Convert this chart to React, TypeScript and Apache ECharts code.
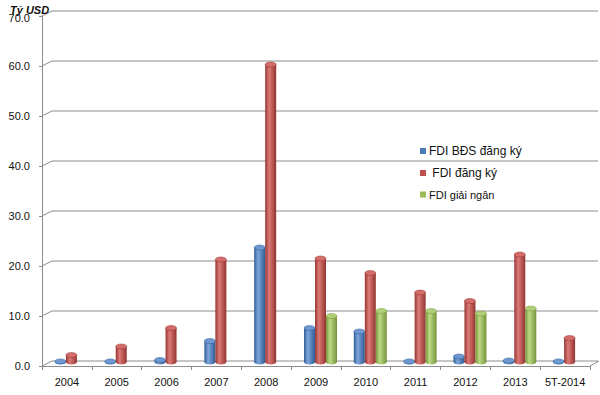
import React, { useEffect, useRef } from "react";
import * as echarts from "echarts";

const categories = ["2004", "2005", "2006", "2007", "2008", "2009", "2010", "2011", "2012", "2013", "5T-2014"];
const fdiBdsRegistered = [0.4, 0.5, 1.2, 5.0, 23.7, 7.6, 6.9, 0.8, 1.9, 1.1, 0.4];
const fdiRegistered = [2.2, 3.9, 7.6, 21.3, 60.3, 21.5, 18.6, 14.7, 13.0, 22.3, 5.6];
const fdiDisbursed: (number | null)[] = [null, null, null, null, null, 10.0, 11.0, 11.0, 10.5, 11.5, null];
const yTicks = [0, 10, 20, 30, 40, 50, 60, 70];
const seriesNames = ["FDI BĐS đăng ký", "FDI đăng ký", "FDI giải ngân"];

const palettes = [
  { base: "#4a7ebb", dark: "#2f5d95", light: "#7ea6dc", top: "#6f98d2" },
  { base: "#c0504d", dark: "#943431", light: "#dc7a77", top: "#d46d6a" },
  { base: "#9bbb59", dark: "#76953a", light: "#bcd985", top: "#b0cf78" },
];

const FONT = "'Liberation Sans', Arial, sans-serif";

export default function App() {
  const ref = useRef<HTMLDivElement>(null);
  useEffect(() => {
    if (!ref.current) return;
    document.body.style.margin = "0";
    const chart = echarts.init(ref.current, undefined, { renderer: "svg" });
    const seriesData = [fdiBdsRegistered, fdiRegistered, fdiDisbursed];

    const barSeries = seriesData.map((data, s) => {
      const p = palettes[s];
      return {
        type: "custom",
        name: seriesNames[s],
        itemStyle: { color: p.base },
        data: data.map((v, i) => [i, v == null ? null : v]),
        encode: { x: 0, y: 1 },
        z: 3,
        renderItem: (params: any, api: any) => {
          const v = api.value(1);
          if (v == null || isNaN(v)) return { type: "group", children: [] };
          const idx = api.value(0);
          const base = api.coord([idx, 0]);
          const topPt = api.coord([idx, v]);
          const w = 11;
          const cx = base[0] + 4.5 + (s - 1) * w;
          const yb = base[1] - 4;
          const yt = Math.min(topPt[1], yb - 0.6);
          const ry = 2.5;
          const grad = new echarts.graphic.LinearGradient(0, 0, 1, 0, [
            { offset: 0, color: p.dark },
            { offset: 0.35, color: p.light },
            { offset: 1, color: p.dark },
          ]);
          return {
            type: "group",
            children: [
              { type: "ellipse", shape: { cx, cy: yb, rx: w / 2, ry }, style: { fill: grad } },
              { type: "rect", shape: { x: cx - w / 2, y: yt, width: w, height: yb - yt }, style: { fill: grad } },
              { type: "ellipse", shape: { cx, cy: yt, rx: w / 2, ry }, style: { fill: p.top, stroke: p.dark, lineWidth: 0.5 } },
            ],
          };
        },
      };
    });

    const gridSeries = {
      type: "custom",
      name: "grid",
      silent: true,
      z: 1,
      data: yTicks.map((t) => [0, t]),
      encode: { x: 0, y: 1 },
      renderItem: (params: any, api: any) => {
        const t = api.value(1);
        const cs = params.coordSys;
        const y = api.coord([0, t])[1];
        const x0 = cs.x;
        const x1 = cs.x + cs.width;
        const children: any[] = [
          {
            type: "polyline",
            shape: { points: [[x0, y], [x0 + 10, y - 5], [x1 + 8, y - 5]] },
            style: { stroke: "#8c8c8c", lineWidth: 1, fill: "none" },
          },
        ];
        if (t === 0) {
          children.push({
            type: "line",
            shape: { x1: x1, y1: y, x2: x1 + 9, y2: y - 5 },
            style: { stroke: "#8c8c8c", lineWidth: 1 },
          });
        }
        return { type: "group", children };
      },
    };

    chart.setOption({
      animation: false,
      backgroundColor: "#ffffff",
      title: {
        text: "Tỷ USD",
        left: 5,
        top: -1,
        textStyle: { fontFamily: FONT, fontSize: 11, fontWeight: "bold", fontStyle: "italic", color: "#111" },
      },
      legend: {
        orient: "vertical",
        left: 415,
        top: 140,
        itemWidth: 6,
        itemHeight: 6,
        itemGap: 10,
        icon: "rect",
        data: [
          { name: seriesNames[0], textStyle: { fontSize: 12 } },
          { name: seriesNames[1], textStyle: { fontSize: 12 } },
          { name: seriesNames[2], textStyle: { fontSize: 11 } },
        ],
        formatter: (n: string) => (n === seriesNames[1] ? " " + n : n),
        textStyle: { fontFamily: FONT, color: "#111", padding: [0, 0, 0, -2] },
      },
      grid: { left: 42, right: 10, top: 16, bottom: 29 },
      xAxis: {
        type: "category",
        data: categories,
        axisLine: { lineStyle: { color: "#8c8c8c" } },
        axisTick: { show: true, length: 4, interval: 0, alignWithLabel: false, lineStyle: { color: "#8c8c8c" } },
        axisLabel: { fontFamily: FONT, fontSize: 11, color: "#111", margin: 10, interval: 0 },
      },
      yAxis: {
        type: "value",
        min: 0,
        max: 70,
        interval: 10,
        axisLine: { show: true, lineStyle: { color: "#8c8c8c" } },
        axisTick: { show: true, length: 3, lineStyle: { color: "#8c8c8c" } },
        splitLine: { show: false },
        axisLabel: {
          fontFamily: FONT,
          fontSize: 11,
          color: "#111",
          margin: 12,
          formatter: (v: number) => (v === 70 ? "{t|" + v.toFixed(1) + "}" : v.toFixed(1)),
          rich: { t: { fontFamily: FONT, fontSize: 11, color: "#111", padding: [3, 0, 0, 0] } },
        },
      },
      series: [gridSeries, ...barSeries],
    });
    return () => chart.dispose();
  }, []);
  return <div ref={ref} style={{ width: 600, height: 395 }} />;
}
